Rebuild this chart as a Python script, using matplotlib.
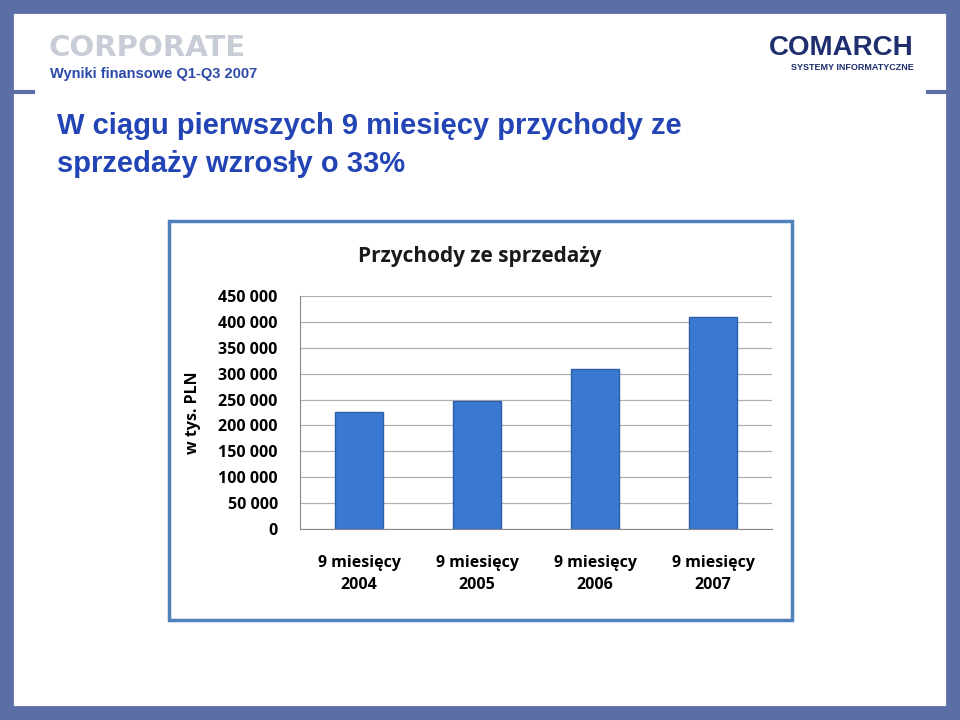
import matplotlib
matplotlib.use("Agg")
import matplotlib.pyplot as plt
from matplotlib.patches import Rectangle
import matplotlib.ticker as mt

categories = ["9 miesięcy\n2004", "9 miesięcy\n2005", "9 miesięcy\n2006", "9 miesięcy\n2007"]
values = [226000, 247000, 309000, 409000]
yticks = [0, 50000, 100000, 150000, 200000, 250000, 300000, 350000, 400000, 450000]

W, H = 960, 720
fig = plt.figure(figsize=(9.6, 7.2), dpi=100)
fig.patch.set_facecolor("white")

def fx(x): return x / W
def fy(y): return 1 - y / H

fig.patches.append(Rectangle((0, 0), 1, 1, transform=fig.transFigure, fill=False,
                             edgecolor="#5b6fa6", linewidth=20, zorder=0))
for x0, x1 in [(15, 33), (928, 946)]:
    fig.add_artist(plt.Line2D([fx(x0), fx(x1)], [fy(92), fy(92)], color="#5b6fa6", lw=3, transform=fig.transFigure))

fig.text(fx(48), fy(48), "CORPORATE", fontsize=21, fontweight="bold", color="#c8ccd6",
         family="DejaVu Sans", va="center", ha="left")
fig.text(fx(50), fy(74), "Wyniki finansowe Q1-Q3 2007", fontsize=10.5, fontweight="bold",
         color="#2b4aa8", family="Liberation Sans", va="center", ha="left")
fig.text(fx(914), fy(48), "COMARCH", fontsize=20, fontweight="bold", color="#1e2e6e",
         family="Liberation Sans", va="center", ha="right")
fig.text(fx(914), fy(68), "SYSTEMY INFORMATYCZNE", fontsize=6.5, fontweight="bold", color="#1e2e6e",
         family="Liberation Sans", va="center", ha="right")
fig.text(fx(57), fy(126), "W ciągu pierwszych 9 miesięcy przychody ze", fontsize=21, fontweight="bold",
         color="#2344b4", family="Liberation Sans", va="center", ha="left")
fig.text(fx(57), fy(164), "sprzedaży wzrosły o 33%", fontsize=21, fontweight="bold",
         color="#2344b4", family="Liberation Sans", va="center", ha="left")

fig.patches.append(Rectangle((fx(169), fy(620)), fx(792 - 169), (620 - 221) / H,
                             transform=fig.transFigure, fill=False, edgecolor="#4f81bd", linewidth=2.5))
fig.text(fx(480), fy(256), "Przychody ze sprzedaży", fontsize=15, fontweight="bold",
         color="#1a1a1a", family="Open Sans", va="center", ha="center")

ax = fig.add_axes([fx(300), fy(529), fx(772 - 300), (529 - 296) / H])
x = range(len(categories))
ax.bar(x, values, width=0.4, color="#3b78d2", edgecolor="#2d5fa8", linewidth=1, zorder=3)
ax.set_xlim(-0.5, 3.5)
ax.set_ylim(0, 450000)
ax.set_yticks(yticks)
ax.yaxis.set_major_formatter(mt.FuncFormatter(lambda v, p: f"{int(v):,}".replace(",", " ")))
ax.grid(axis="y", color="#b0b0b0", lw=0.9, zorder=0)
ax.set_xticks(list(x))
ax.set_xticklabels(categories, fontsize=11.5, fontweight="bold", family="Open Sans", linespacing=1.45)
for l in ax.get_yticklabels():
    l.set_fontsize(11.5); l.set_fontweight("bold"); l.set_family("Open Sans")
ax.tick_params(axis="y", length=0, pad=16)
ax.tick_params(axis="x", length=0, pad=19)
for s in ["top", "right"]:
    ax.spines[s].set_visible(False)
ax.spines["left"].set_color("#888888")
ax.spines["bottom"].set_color("#888888")
ax.set_ylabel("w tys. PLN", fontsize=11.5, fontweight="bold", family="Open Sans", labelpad=12)

fig.savefig("out.png", dpi=100)
